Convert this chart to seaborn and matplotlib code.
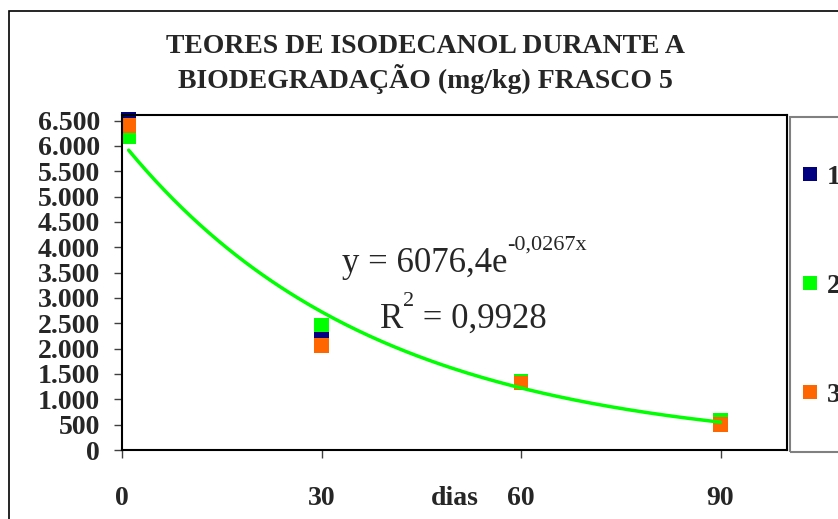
import numpy as np
import pandas as pd
import matplotlib.pyplot as plt
from matplotlib.patches import Rectangle
from matplotlib.ticker import FuncFormatter
import seaborn as sns

# ---- Data ----
dias = [1, 30, 60, 90]
frasco_1 = [6520, 2340, 1340, 550]
frasco_2 = [6190, 2470, 1360, 590]
frasco_3 = [6400, 2060, 1320, 500]
series = ["1", "2", "3"]
cores = ["#000080", "#00FF00", "#FF6600"]

# exponential trend line printed on the chart: y = a * exp(k * x)
trend_a = 6076.4
trend_k = -0.0267
eq_main = "y = 6076,4e"
eq_exp = "-0,0267x"
r2_main = ["R", " = 0,9928"]

x_ticks = [0, 30, 60, 90]
y_ticks = list(range(0, 7000, 500))
title_lines = ["TEORES DE ISODECANOL DURANTE A", "BIODEGRADAÇÃO (mg/kg) FRASCO 5"]

df = pd.DataFrame({
    "dias": dias * 3,
    "teor": frasco_1 + frasco_2 + frasco_3,
    "serie": [s for s in series for _ in dias],
})

# ---- Style ----
sns.set_style("ticks")
plt.rcParams["font.family"] = ["Liberation Serif", "DejaVu Serif"]

W, H = 838, 519
fig = plt.figure(figsize=(W / 100, H / 100), dpi=100)
ax = fig.add_axes([122 / W, (H - 450) / H, 665 / W, 335 / H])

# ---- Points and trend line ----
sns.scatterplot(data=df, x="dias", y="teor", hue="serie", palette=cores, marker="s",
                s=110, linewidth=0, ax=ax, zorder=2, clip_on=False)
xs = np.linspace(min(dias), max(dias), 200)
sns.lineplot(x=xs, y=trend_a * np.exp(trend_k * xs), color="#00FF00", lw=2.5, ax=ax, zorder=3)

# ---- Axes ----
ax.set_xlim(0, 100)
ax.set_ylim(0, 6610)
ax.set_xticks(x_ticks)
ax.set_yticks(y_ticks)
ax.yaxis.set_major_formatter(FuncFormatter(lambda v, p: f"{v:,.0f}".replace(",", ".")))
ax.tick_params(axis="both", direction="out", length=6, width=1, color="#404040", labelsize=20)
ax.tick_params(axis="y", pad=10)
ax.tick_params(axis="x", pad=20)
for lab in ax.get_xticklabels() + ax.get_yticklabels():
    lab.set_fontweight("bold")
for sp in ax.spines.values():
    sp.set_visible(True)
    sp.set_color("black")
    sp.set_linewidth(1.5)
ax.set_ylabel("")
ax.set_xlabel("dias", fontsize=20, fontweight="bold")
ax.xaxis.set_label_coords(0.5, -0.107)

# equation of the trend line, superscripts drawn as raised smaller texts
eq = fig.text(342 / W, 1 - 272 / H, eq_main, ha="left", va="baseline", fontsize=25)
ax.annotate(eq_exp, xy=(1, H - 250), xycoords=(eq, "figure pixels"),
            ha="left", va="baseline", fontsize=16, annotation_clip=False)
r = fig.text(380 / W, 1 - 328 / H, r2_main[0], ha="left", va="baseline", fontsize=25)
sup = ax.annotate("2", xy=(1, H - 306), xycoords=(r, "figure pixels"),
                  ha="left", va="baseline", fontsize=16, annotation_clip=False)
ax.annotate(r2_main[1], xy=(1, H - 328), xycoords=(sup, "figure pixels"),
            ha="left", va="baseline", fontsize=25, annotation_clip=False)

# ---- Legend (cut off at the right edge like the original) ----
sns.move_legend(ax, "center left", bbox_to_anchor=(802 / W, (H - 286) / H),
                bbox_transform=fig.transFigure, title=None, frameon=False,
                labelspacing=3.0, handlelength=0.6, handletextpad=0.3,
                borderpad=0, borderaxespad=0, prop={"weight": "bold", "size": 20})
fig.add_artist(Rectangle((790 / W, (H - 452) / H), 0.2, 335 / H, transform=fig.transFigure,
                         fill=False, edgecolor="#808080", lw=1.5))

# ---- Chart area border and title ----
fig.add_artist(Rectangle((9 / W, -0.1), 1.2, (H - 11) / H + 0.1, transform=fig.transFigure,
                         fill=False, edgecolor="black", lw=1.2))
fig.text(425 / W, 1 - 53 / H, title_lines[0], ha="center", va="baseline", fontsize=20, fontweight="bold")
fig.text(425 / W, 1 - 88 / H, title_lines[1], ha="center", va="baseline", fontsize=20, fontweight="bold")

fig.savefig("out.png", dpi=100)
